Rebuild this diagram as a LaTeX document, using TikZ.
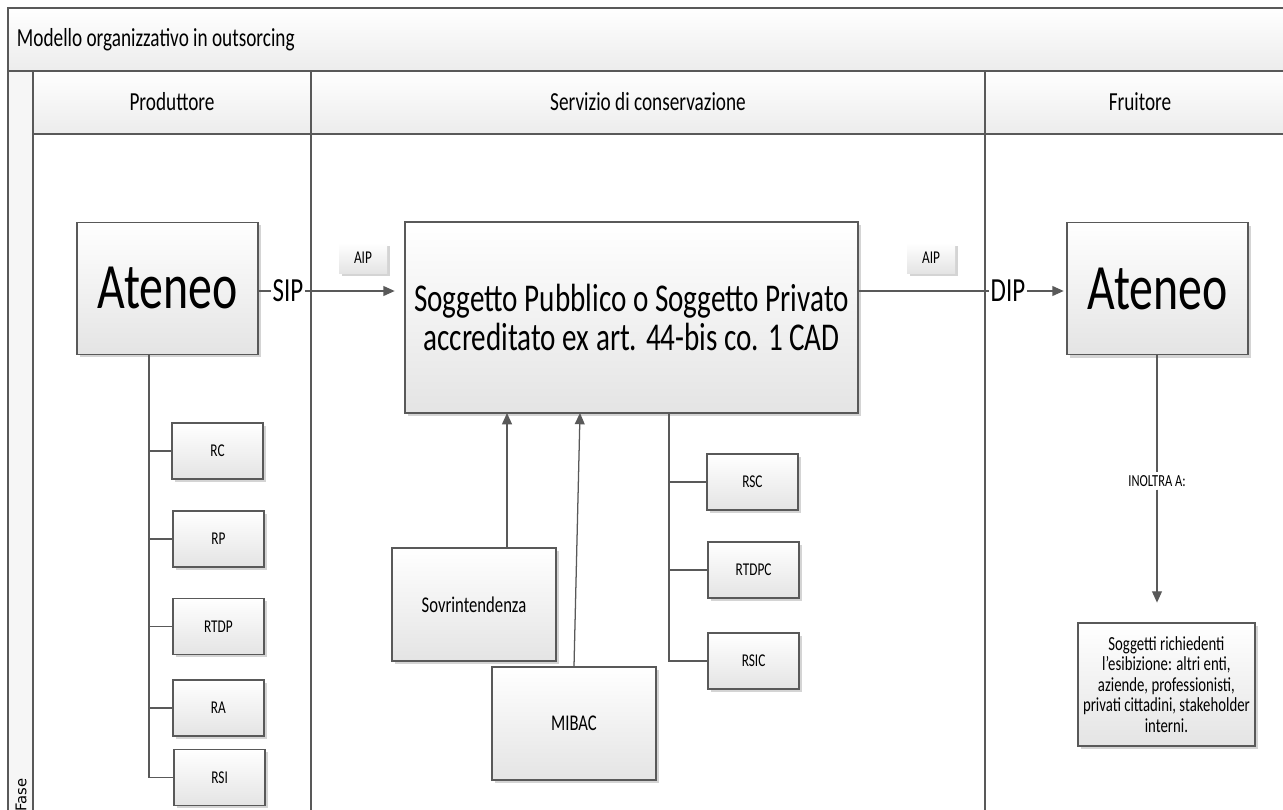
\documentclass[tikz,border=0pt]{standalone}
\usepackage{fontspec}
\setmainfont{Carlito}[FakeStretch=0.74]
\newfontfamily\fasefont{DejaVu Sans}
\usetikzlibrary{arrows.meta,shadows,calc}
\definecolor{ln_grey}{RGB}{89, 89, 89}
\definecolor{box_grey}{RGB}{228, 228, 228}
\definecolor{band_grey}{RGB}{236, 236, 236}
\definecolor{shd_grey}{RGB}{212, 212, 212}
\tikzstyle{ln}=[draw=ln_grey,line width=0.9pt]
\tikzstyle{arr}=[draw=ln_grey,line width=0.9pt,-{Triangle[length=8pt,width=7pt]},
  fill=ln_grey]
\tikzstyle{band}=[top color=white,bottom color=band_grey]
\tikzstyle{bx}=[rectangle,draw=ln_grey,line width=0.9pt,top color=white,
  bottom color=box_grey,inner sep=1pt,align=center,
  drop shadow={shadow xshift=2pt,shadow yshift=-2pt,fill=shd_grey,opacity=1}]
\tikzstyle{big}=[style=bx,minimum width=4.525cm,minimum height=3.3cm,
  font=\fontsize{46}{50}\selectfont]
\tikzstyle{sogg}=[style=bx,minimum width=11.325cm,minimum height=4.775cm,
  font=\fontsize{28}{27.7}\selectfont]
\tikzstyle{sb}=[style=bx,minimum width=2.275cm,minimum height=1.4cm,
  font=\fontsize{12.8}{15}\selectfont]
\tikzstyle{mb}=[style=bx,minimum width=4.1cm,minimum height=2.825cm,
  font=\fontsize{16}{19}\selectfont]
\tikzstyle{tb}=[style=bx,minimum width=4.425cm,minimum height=3.075cm,
  font=\fontsize{14.2}{14.6}\selectfont]
\tikzstyle{tag}=[rectangle,top color=white,bottom color=box_grey,
  minimum width=1.2cm,minimum height=0.75cm,font=\fontsize{12.8}{15}\selectfont,
  drop shadow={shadow xshift=2pt,shadow yshift=-2pt,fill=shd_grey,opacity=1}]
\tikzstyle{flow}=[inner sep=1pt,font=\fontsize{24}{28}\selectfont]
\tikzstyle{hd}=[font=\fontsize{18.5}{22}\selectfont]
\tikzstyle{inoltra}=[fill=white,inner sep=2pt,font=\fontsize{12}{14}\selectfont]
\tikzstyle{fase}=[inner sep=0pt,font=\fasefont\fontsize{10.5}{12}\selectfont]
\tikzstyle{none}=[]

\begin{document}
\begin{tikzpicture}
		\useasboundingbox [fill=white] (0, 0) rectangle (32.075, -20.225);
		\shade [style=band] (0.2, -0.2) rectangle (32.3, -1.775);
		\shade [style=band] (0.825, -1.775) rectangle (32.3, -3.35);
		\fill [band_grey!50] (0.2, -1.775) rectangle (0.825, -20.4);
		\draw [style=ln] (32.3, -0.2) -- (0.2, -0.2) -- (0.2, -20.4);
		\draw [style=ln] (0.2, -1.775) -- (32.3, -1.775);
		\draw [style=ln] (0.825, -1.775) -- (0.825, -20.4);
		\draw [style=ln] (0.825, -3.35) -- (32.3, -3.35);
		\draw [style=ln] (7.775, -1.775) -- (7.775, -20.4);
		\draw [style=ln] (24.625, -1.775) -- (24.625, -20.4);
		\node [style=hd, anchor=west] (0) at (0.3, -1.0) {Modello organizzativo in outsorcing};
		\node [style=hd] (1) at (4.3, -2.55) {Produttore};
		\node [style=hd] (2) at (16.2, -2.55) {Servizio di conservazione};
		\node [style=hd] (3) at (28.5, -2.55) {Fruitore};
		\node [style=fase, rotate=90, anchor=east] (4) at (0.53, -19.45) {Fase};
		\node [style=big] (5) at (4.19, -7.21) {Ateneo};
		\node [style=sogg] (6) at (15.79, -7.94) {Soggetto Pubblico o Soggetto Privato\\accreditato ex art. 44-bis co. 1 CAD};
		\node [style=big] (7) at (28.94, -7.22) {Ateneo};
		\node [style=flow] (8) at (7.2, -7.275) {SIP};
		\node [style=flow] (9) at (25.2, -7.275) {DIP};
		\node [style=tag] (10) at (9.075, -6.45) {AIP};
		\node [style=tag] (11) at (23.275, -6.45) {AIP};
		\node [style=none] (12) at (3.725, -8.875) {};
		\node [style=sb] (13) at (5.44, -11.275) {RC};
		\node [style=sb] (14) at (5.46, -13.475) {RP};
		\node [style=sb] (15) at (5.46, -15.66) {RTDP};
		\node [style=sb] (16) at (5.46, -17.7) {RA};
		\node [style=sb] (17) at (5.49, -19.44) {RSI};
		\node [style=none] (18) at (16.725, -10.325) {};
		\node [style=sb] (19) at (18.81, -12.05) {RSC};
		\node [style=sb] (20) at (18.84, -14.25) {RTDPC};
		\node [style=sb] (21) at (18.84, -16.525) {RSIC};
		\node [style=mb] (22) at (11.85, -15.11) {Sovrintendenza};
		\node [style=mb] (23) at (14.35, -18.09) {MIBAC};
		\node [style=none] (24) at (12.675, -10.325) {};
		\node [style=none] (25) at (14.5, -10.325) {};
		\node [style=inoltra] (26) at (28.925, -12.025) {INOLTRA A:};
		\node [style=tb] (27) at (29.16, -17.11) {Soggetti richiedenti\\l’esibizione: altri enti,\\aziende, professionisti,\\privati cittadini, stakeholder\\interni.};
		\draw [style=ln] (8.west -| 5.east) to (8.west);
		\draw [style=arr, shorten >=7pt] (8.east) to (8.east -| 6.west);
		\draw [style=ln] (9.west -| 6.east) to (9.west);
		\draw [style=arr, shorten >=2pt] (9.east) to (9.east -| 7.west);
		\draw [style=ln] (12.center) |- (17.west);
		\draw [style=ln] (12.center |- 13.west) to (13.west);
		\draw [style=ln] (12.center |- 14.west) to (14.west);
		\draw [style=ln] (12.center |- 15.west) to (15.west);
		\draw [style=ln] (12.center |- 16.west) to (16.west);
		\draw [style=ln] (18.center) |- (21.west);
		\draw [style=ln] (18.center |- 19.west) to (19.west);
		\draw [style=ln] (18.center |- 20.west) to (20.west);
		\draw [style=arr] (22.north -| 24.center) to (24.center);
		\draw [style=arr] (23.north) to (25.center);
		\draw [style=ln] (7.south -| 26.north) to (26.north);
		\draw [style=arr, shorten >=14pt] (26.south) to (26.south |- 27.north);
\end{tikzpicture}
\end{document}
